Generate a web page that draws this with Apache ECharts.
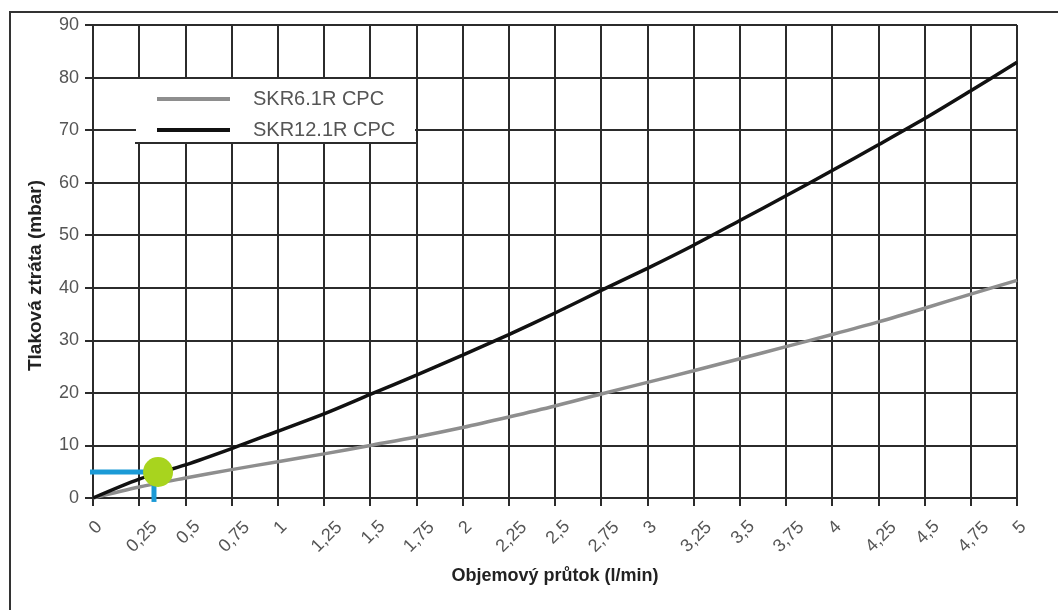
<!DOCTYPE html>
<html>
<head>
<meta charset="utf-8">
<script src="https://cdn.jsdelivr.net/npm/echarts@6/dist/echarts.min.js"></script>
<style>
html,body{margin:0;padding:0;background:#fff;}
#chart{width:1058px;height:610px;}
</style>
</head>
<body>
<div id="chart"></div>
<script>
// ---- data ----
var flowValues = [0, 0.25, 0.5, 0.75, 1, 1.25, 1.5, 1.75, 2, 2.25, 2.5, 2.75, 3, 3.25, 3.5, 3.75, 4, 4.25, 4.5, 4.75, 5];
var xTickLabels = ['0','0,25','0,5','0,75','1','1,25','1,5','1,75','2','2,25','2,5','2,75','3','3,25','3,5','3,75','4','4,25','4,5','4,75','5'];
var yTickLabels = ['0','10','20','30','40','50','60','70','80','90'];
var seriesNames = ['SKR6.1R CPC', 'SKR12.1R CPC'];
var skr6Values  = [0, 2.1, 3.8, 5.4, 6.9, 8.4, 10.0, 11.6, 13.4, 15.4, 17.5, 19.8, 22.0, 24.2, 26.5, 28.8, 31.1, 33.5, 36.1, 38.8, 41.4];
var skr12Values = [0, 3.6, 6.3, 9.4, 12.7, 16.0, 19.7, 23.4, 27.2, 31.1, 35.2, 39.5, 43.7, 48.1, 52.8, 57.5, 62.3, 67.2, 72.2, 77.5, 82.9];
var markerHLine = [[-0.025, 4.95], [0.33, 4.95]];
var markerVLine = [[0.33, 4.95], [0.33, -0.75]];
var markerPoint = [[0.352, 4.95]];
var xAxisTitle = 'Objemový průtok (l/min)';
var yAxisTitle = 'Tlaková ztráta (mbar)';

function pairs(xs, ys) { return xs.map(function (x, i) { return [x, ys[i]]; }); }

var FONT = '"Liberation Sans", Arial, Helvetica, sans-serif';
var GRID_COLOR = '#2b2b2b';
var LABEL_COLOR = '#555555';

var chart = echarts.init(document.getElementById('chart'), null, {renderer: 'canvas'});
var option = {
  animation: false,
  backgroundColor: '#ffffff',
  textStyle: {fontFamily: FONT},
  grid: {left: 93, right: 41, top: 25, bottom: 112, containLabel: false, outerBoundsMode: 'none'},
  legend: {
    data: seriesNames,
    orient: 'vertical',
    left: 157,
    top: 89,
    padding: 0,
    itemGap: 11,
    itemWidth: 73,
    itemHeight: 4,
    icon: 'rect',
    selectedMode: false,
    formatter: function (name) { return '{a|' + name + '}'; },
    textStyle: {
      fontFamily: FONT,
      rich: {a: {fontSize: 20, color: LABEL_COLOR, lineHeight: 22, padding: [0, 0, 0, 18], fontFamily: FONT}}
    }
  },
  xAxis: {
    type: 'value',
    min: 0, max: 5, interval: 0.25,
    name: xAxisTitle,
    nameLocation: 'middle',
    nameGap: 69,
    nameMoveOverlap: false,
    nameTextStyle: {fontSize: 18, fontWeight: 'bold', color: '#222222', fontFamily: FONT},
    axisLine: {show: true, lineStyle: {color: GRID_COLOR, width: 2}},
    axisTick: {show: true, length: 8, lineStyle: {color: GRID_COLOR, width: 2}},
    splitLine: {show: true, lineStyle: {color: GRID_COLOR, width: 2}},
    axisLabel: {
      rotate: 45,
      margin: 39,
      align: 'center',
      verticalAlign: 'middle',
      hideOverlap: false,
      showMinLabel: true,
      showMaxLabel: true,
      formatter: function (v) {
        var t = xTickLabels[Math.round(v / 0.25)];
        if (t === undefined) return '';
        var cls = t.length === 1 ? 's' : (t.length === 3 ? 'm' : 'l');
        return '{' + cls + '|' + t + '}';
      },
      rich: {
        s: {fontSize: 18, color: LABEL_COLOR, fontFamily: FONT, lineHeight: 18, padding: [0, 0, 9, 17]},
        m: {fontSize: 18, color: LABEL_COLOR, fontFamily: FONT, lineHeight: 18, padding: [0, 0, 2, 11]},
        l: {fontSize: 18, color: LABEL_COLOR, fontFamily: FONT, lineHeight: 18, padding: [4, 0, 0, 4]}
      }
    }
  },
  yAxis: {
    type: 'value',
    min: 0, max: 90, interval: 10,
    name: yAxisTitle,
    nameLocation: 'middle',
    nameGap: 48,
    nameRotate: 90,
    nameMoveOverlap: false,
    nameTextStyle: {fontSize: 19, fontWeight: 'bold', color: '#222222', fontFamily: FONT, padding: [0, 28, 0, 0]},
    axisLine: {show: true, lineStyle: {color: GRID_COLOR, width: 2}},
    axisTick: {show: true, length: 8, lineStyle: {color: GRID_COLOR, width: 2}},
    splitLine: {show: true, lineStyle: {color: GRID_COLOR, width: 2}},
    axisLabel: {
      margin: 14,
      fontSize: 18,
      color: LABEL_COLOR,
      fontFamily: FONT,
      formatter: function (v) { var t = yTickLabels[Math.round(v / 10)]; return t === undefined ? '' : t; }
    }
  },
  series: [
    {
      name: seriesNames[0], type: 'line', data: pairs(flowValues, skr6Values),
      smooth: 0.3, showSymbol: false, symbol: 'none',
      lineStyle: {color: '#8e8e8e', width: 3.5}, itemStyle: {color: '#8e8e8e'}, z: 3
    },
    {
      name: seriesNames[1], type: 'line', data: pairs(flowValues, skr12Values),
      smooth: 0.3, showSymbol: false, symbol: 'none',
      lineStyle: {color: '#111111', width: 3.5}, itemStyle: {color: '#111111'}, z: 4
    },
    {
      name: 'hline', type: 'line', data: markerHLine, clip: false, showSymbol: false, symbol: 'none',
      lineStyle: {color: '#1b9ad6', width: 5}, z: 5, silent: true
    },
    {
      name: 'vline', type: 'line', data: markerVLine, clip: false, showSymbol: false, symbol: 'none',
      lineStyle: {color: '#1b9ad6', width: 5}, z: 5, silent: true
    },
    {
      name: 'point', type: 'scatter', data: markerPoint, clip: false, symbol: 'circle', symbolSize: 30,
      itemStyle: {color: '#a8d41e', opacity: 1}, z: 6, silent: true
    }
  ],
  graphic: [
    {type: 'rect', z: 3, silent: true, shape: {x: 136, y: 79, width: 279, height: 64}, style: {fill: '#ffffff'}},
    {type: 'line', z: 3, silent: true, shape: {x1: 135, y1: 143, x2: 416, y2: 143}, style: {stroke: GRID_COLOR, lineWidth: 2}},
    {type: 'line', z: 3, silent: true, shape: {x1: 10, y1: 12, x2: 1058, y2: 12}, style: {stroke: '#333333', lineWidth: 2}},
    {type: 'line', z: 3, silent: true, shape: {x1: 10, y1: 11, x2: 10, y2: 610}, style: {stroke: '#333333', lineWidth: 2}}
  ]
};
chart.setOption(option);
</script>
</body>
</html>
